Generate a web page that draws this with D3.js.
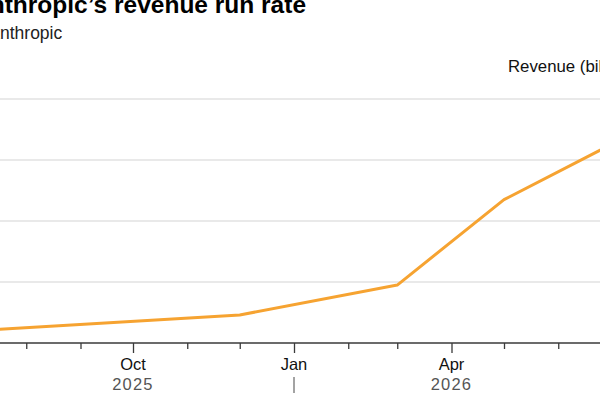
<!DOCTYPE html>
<html>
<head>
<meta charset="utf-8">
<script src="https://cdn.jsdelivr.net/npm/d3@7"></script>
<style>
  body { margin: 0; background: #fff; }
  svg { display: block; font-family: "Liberation Sans", Arial, sans-serif; }
</style>
</head>
<body>
<script>
// revenue run rate, billions USD
const dates = ["2025-07-01", "2025-12-01", "2026-03-01", "2026-05-01", "2026-07-01"];
const revenue = [4, 9.2, 19, 47, 65];

const gridValues = [20, 40, 60, 80];
const monthLabels = [["2025-10-01", "Oct"], ["2026-01-01", "Jan"], ["2026-04-01", "Apr"], ["2026-07-01", "Jul"]];
const yearLabels = [["2025-10-01", "2025"], ["2026-04-01", "2026"]];
const yearBreaks = ["2026-01-01"];

const titleText = "Anthropic\u2019s revenue run rate";
const subtitleText = "Anthropic";
const unitText = "Revenue (billions)";

const parse = d3.utcParse("%Y-%m-%d");
const data = dates.map((d, i) => ({date: parse(d), value: revenue[i]}));

const w = 600, h = 400;

const svg = d3.select("body").append("svg")
  .attr("width", w)
  .attr("height", h)
  .style("overflow", "hidden");

// the picture is a crop, so the plot runs past both edges
const x = d3.scaleUtc()
  .domain([parse("2025-07-01"), parse("2026-07-01")])
  .range([-28, 610.75]);

const y = d3.scaleLinear()
  .domain([0, 80])
  .range([343, 99]);

// title block
svg.append("text")
  .attr("x", -28).attr("y", 13)
  .attr("font-size", 24.5).attr("font-weight", "bold").attr("fill", "#000")
  .text(titleText);

svg.append("text")
  .attr("x", -11.7).attr("y", 39)
  .attr("font-size", 17.5).attr("fill", "#222")
  .text(subtitleText);

svg.append("text")
  .attr("x", 508).attr("y", 72)
  .attr("font-size", 16.8).attr("fill", "#111")
  .text(unitText);

// gridlines
svg.append("g").selectAll("line")
  .data(gridValues)
  .join("line")
  .attr("x1", -10).attr("x2", w + 10)
  .attr("y1", d => y(d)).attr("y2", d => y(d))
  .attr("stroke", "#d4d4d4")
  .attr("stroke-width", 1.2);

// x axis, monthly ticks, longer ones where a label sits
const majors = new Set(monthLabels.map(d => d[0]));
const fmt = d3.utcFormat("%Y-%m-%d");
const xAxis = d3.axisBottom(x)
  .ticks(d3.utcMonth.every(1))
  .tickSize(6)
  .tickSizeOuter(0)
  .tickFormat("");

const ax = svg.append("g")
  .attr("transform", `translate(0,${y(0)})`)
  .call(xAxis);

ax.select(".domain").remove();
ax.selectAll(".tick line")
  .attr("stroke", "#3a3a3a")
  .attr("stroke-width", 1.3)
  .attr("y2", d => majors.has(fmt(d)) ? 10 : 6);

svg.append("line")
  .attr("x1", -10).attr("x2", w + 10)
  .attr("y1", y(0)).attr("y2", y(0))
  .attr("stroke", "#3a3a3a")
  .attr("stroke-width", 1.6);

svg.append("g").selectAll("text")
  .data(monthLabels)
  .join("text")
  .attr("x", d => x(parse(d[0])))
  .attr("y", 370)
  .attr("text-anchor", "middle")
  .attr("font-size", 16.5)
  .attr("fill", "#111")
  .text(d => d[1]);

svg.append("g").selectAll("text")
  .data(yearLabels)
  .join("text")
  .attr("x", d => x(parse(d[0])))
  .attr("y", 390)
  .attr("text-anchor", "middle")
  .attr("font-size", 16.5)
  .attr("letter-spacing", 1.2)
  .attr("fill", "#555")
  .text(d => d[1]);

svg.append("g").selectAll("line")
  .data(yearBreaks)
  .join("line")
  .attr("x1", d => x(parse(d))).attr("x2", d => x(parse(d)))
  .attr("y1", 377).attr("y2", 393)
  .attr("stroke", "#666")
  .attr("stroke-width", 1.2);

// the series
const line = d3.line()
  .x(d => x(d.date))
  .y(d => y(d.value));

svg.append("path")
  .datum(data)
  .attr("fill", "none")
  .attr("stroke", "#f6a331")
  .attr("stroke-width", 3)
  .attr("stroke-linejoin", "round")
  .attr("d", line);
</script>
</body>
</html>
